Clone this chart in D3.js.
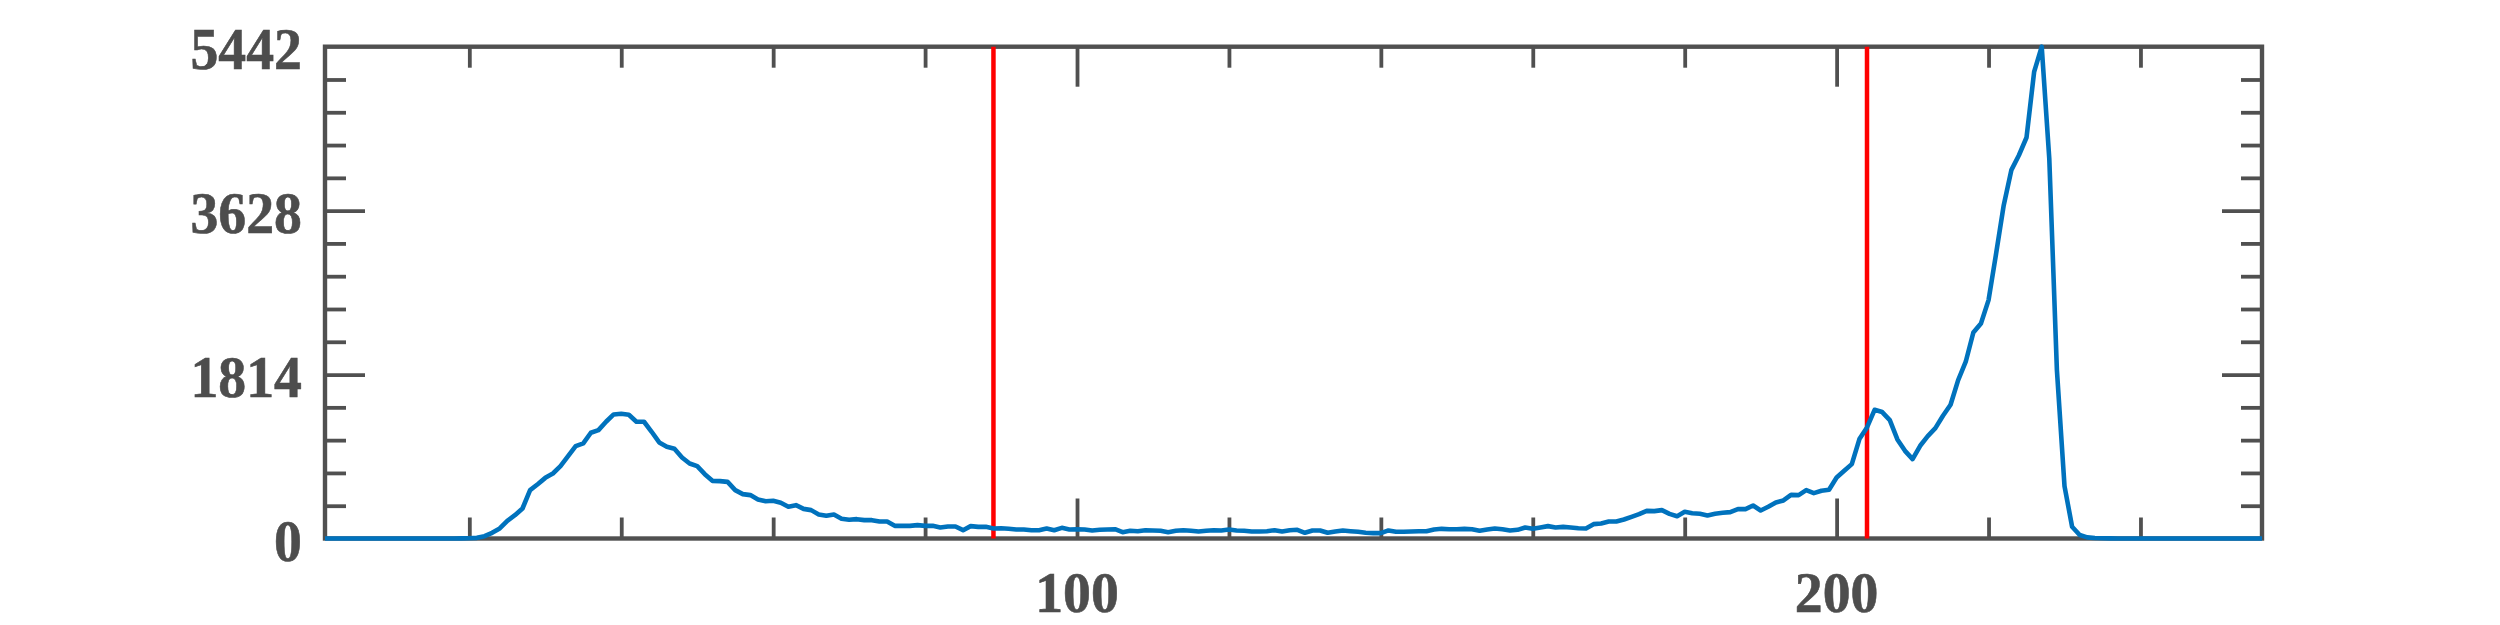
<!DOCTYPE html>
<html>
<head>
<meta charset="utf-8">
<script src="https://cdn.jsdelivr.net/npm/d3@7"></script>
<style>
    html, body { margin: 0; padding: 0; background: #fff; }
    svg { display: block; }
    .tick-label { font-family: "Liberation Serif", serif; font-weight: 700; fill: #4d4d4d; stroke: #4d4d4d; stroke-width: 0.6px; }
</style>
</head>
<body>
<div id="chart"></div>
<script>
// Histogram counts for bins 1..256
const counts = [
    0, 0, 0, 0, 0, 0, 0, 0, 0, 0,
    0, 0, 0, 0, 0, 0, 0, 0, 1, 3,
    7, 26, 63, 111, 196, 258, 332, 535, 601, 671,
    719, 800, 911, 1022, 1052, 1170, 1199, 1292, 1373, 1380,
    1369, 1292, 1292, 1181, 1063, 1015, 993, 897, 830, 800,
    712, 638, 635, 627, 535, 491, 480, 432, 413, 417,
    395, 351, 369, 328, 314, 266, 251, 266, 218, 207,
    214, 203, 203, 188, 188, 140, 140, 140, 148, 140,
    140, 122, 133, 133, 92, 137, 129, 129, 111, 114,
    107, 100, 100, 92, 92, 111, 92, 118, 100, 103,
    100, 89, 96, 100, 103, 70, 85, 81, 92, 89,
    85, 70, 85, 92, 85, 77, 85, 92, 89, 100,
    89, 85, 77, 77, 81, 92, 77, 92, 96, 63,
    89, 89, 63, 77, 89, 81, 74, 63, 59, 59,
    89, 74, 74, 77, 81, 81, 100, 107, 103, 103,
    107, 103, 85, 100, 111, 103, 89, 96, 122, 107,
    122, 137, 122, 129, 122, 114, 111, 159, 166, 188,
    188, 210, 240, 269, 306, 303, 314, 273, 247, 295,
    280, 273, 255, 273, 284, 292, 325, 325, 365, 310,
    351, 399, 421, 483, 480, 535, 502, 528, 539, 675,
    749, 823, 1100, 1229, 1424, 1399, 1310, 1096, 970, 878,
    1026, 1133, 1221, 1358, 1480, 1753, 1956, 2280, 2380, 2638,
    3154, 3688, 4076, 4241, 4437, 5163, 5442, 4197, 1864, 580,
    130, 38, 12, 5, 2, 1, 0, 0, 0, 0,
    0, 0, 0, 0, 0, 0, 0, 0, 0, 0,
    0, 0, 0, 0, 0, 0
];
const thresholds = [89, 204];
const xDomain = [1, 256];
const yDomain = [0, 5442];
const xMinorTicks = [20, 40, 60, 80, 120, 140, 160, 180, 220, 240];
const xMajorTicks = [100, 200];
const yMajorTicks = [0, 1814, 3628, 5442];
const yMinorTicks = [362.8, 725.6, 1088.4, 1451.2, 2176.8, 2539.6, 2902.4, 3265.2, 3990.8, 4353.6, 4716.4, 5079.2];

const width = 2500, height = 625;
const margin = { top: 46.7, right: 238, bottom: 86.5, left: 325 };
const axisColor = '#505050';

const svg = d3.select('#chart').append('svg')
    .attr('width', width)
    .attr('height', height);

const x = d3.scaleLinear().domain(xDomain).range([margin.left, width - margin.right]);
const y = d3.scaleLinear().domain(yDomain).range([height - margin.bottom, margin.top]);

// Ticks point inwards on all four sides, no labels from the axis itself
function drawAxis(axisFn, scale, ticks, size, translate) {
    const g = svg.append('g')
        .attr('transform', translate)
        .call(axisFn(scale).tickValues(ticks).tickSize(size).tickSizeOuter(0).tickFormat(''));
    g.select('.domain').remove();
    g.selectAll('line').attr('stroke', axisColor).attr('stroke-width', 3.8);
}

const bottom = `translate(0,${y(0)})`;
const top_ = `translate(0,${y(5442)})`;
const left = `translate(${x(1)},0)`;
const right = `translate(${x(256)},0)`;

drawAxis(d3.axisBottom, x, xMinorTicks, -21, bottom);
drawAxis(d3.axisBottom, x, xMajorTicks, -40, bottom);
drawAxis(d3.axisTop, x, xMinorTicks, -21, top_);
drawAxis(d3.axisTop, x, xMajorTicks, -40, top_);
drawAxis(d3.axisLeft, y, yMinorTicks, -21, left);
drawAxis(d3.axisLeft, y, yMajorTicks.slice(1, 3), -40, left);
drawAxis(d3.axisRight, y, yMinorTicks, -21, right);
drawAxis(d3.axisRight, y, yMajorTicks.slice(1, 3), -40, right);

// Axes box
svg.append('rect')
    .attr('x', x(1))
    .attr('y', y(5442))
    .attr('width', x(256) - x(1))
    .attr('height', y(0) - y(5442))
    .attr('fill', 'none')
    .attr('stroke', axisColor)
    .attr('stroke-width', 4.4);

// Tick labels. Digits in the reference are a bit narrower than the font's own proportions
svg.append('g').selectAll('text')
    .data(yMajorTicks)
    .join('text')
    .attr('class', 'tick-label')
    .attr('font-size', 60)
    .attr('transform', d => `translate(302,${y(d) + 22}) scale(0.93,1)`)
    .attr('text-anchor', 'end')
    .text(d => d);

// x labels sit close to the bottom edge, slightly smaller so they stay inside the page
svg.append('g').selectAll('text')
    .data(xMajorTicks)
    .join('text')
    .attr('class', 'tick-label')
    .attr('font-size', 58)
    .attr('transform', d => `translate(${x(d)},612) scale(0.96,1)`)
    .attr('text-anchor', 'middle')
    .text(d => d);

// Threshold markers
svg.append('g').selectAll('line')
    .data(thresholds)
    .join('line')
    .attr('x1', d => x(d))
    .attr('x2', d => x(d))
    .attr('y1', y(0))
    .attr('y2', y(5442))
    .attr('stroke', '#ff0000')
    .attr('stroke-width', 4.5);

// Histogram curve
const line = d3.line()
    .x((d, i) => x(i + 1))
    .y(d => y(d));

svg.append('path')
    .datum(counts)
    .attr('d', line)
    .attr('fill', 'none')
    .attr('stroke', '#0072bd')
    .attr('stroke-width', 4.6)
    .attr('stroke-linejoin', 'round');
</script>
</body>
</html>
